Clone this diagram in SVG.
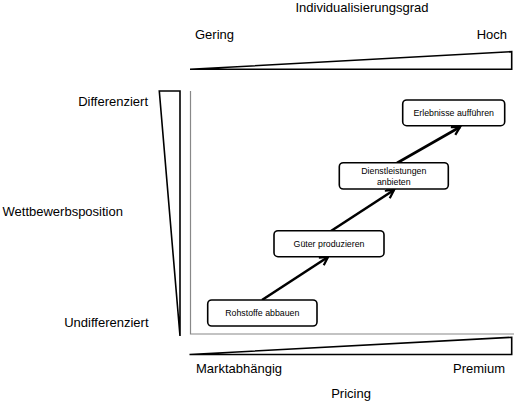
<svg xmlns="http://www.w3.org/2000/svg" width="516" height="402" viewBox="0 0 516 402">
<style>
.lbl{font-family:"Liberation Sans",Arial,sans-serif;font-size:13px;fill:#000}
.box{fill:#fff;stroke:#000;stroke-width:1.6}
.bt{font-family:"Liberation Sans",Arial,sans-serif;font-size:8.8px;fill:#000;text-anchor:middle}
.wedge{fill:#fff;stroke:#000;stroke-width:1.6;stroke-linejoin:miter}
.axis{fill:none;stroke:#888;stroke-width:1.2}
.conn{stroke:#000;stroke-width:2.6;fill:none}
</style>
<defs>
<marker id="ah" markerUnits="userSpaceOnUse" markerWidth="12" markerHeight="12" refX="9" refY="5" orient="auto">
<path d="M1,0.5 L9,5 L1,9.5" fill="none" stroke="#000" stroke-width="2.2"/>
</marker>
</defs>
<rect width="516" height="402" fill="#fff"/>
<g id="axes">
<polyline class="axis" points="190.5,91 190.5,334 514,334"/>
<polygon class="wedge" points="190,69.3 511.7,51.7 511.7,69.3"/>
<polygon class="wedge" points="189.5,354.5 511.7,337.3 511.7,354.5"/>
<polygon class="wedge" points="159.3,91 180,91 180,336"/>
</g>
<g id="labels">
<text class="lbl" x="362" y="12" text-anchor="middle">Individualisierungsgrad</text>
<text class="lbl" x="195" y="38.5">Gering</text>
<text class="lbl" x="507" y="38.5" text-anchor="end">Hoch</text>
<text class="lbl" x="148" y="106" text-anchor="end">Differenziert</text>
<text class="lbl" x="2.5" y="215.5">Wettbewerbsposition</text>
<text class="lbl" x="148.5" y="327" text-anchor="end">Undifferenziert</text>
<text class="lbl" x="196" y="373">Marktabhängig</text>
<text class="lbl" x="505" y="373" text-anchor="end">Premium</text>
<text class="lbl" x="351" y="398" text-anchor="middle">Pricing</text>
</g>
<g id="connectors">
<line class="conn" x1="262" y1="300" x2="328" y2="257" marker-end="url(#ah)"/>
<line class="conn" x1="331" y1="231" x2="394" y2="190" marker-end="url(#ah)"/>
<line class="conn" x1="397" y1="163" x2="460" y2="127" marker-end="url(#ah)"/>
</g>
<g id="n1">
<rect class="box" x="207.7" y="300" width="109.3" height="26" rx="4"/>
<text class="bt" x="262.3" y="316">Rohstoffe abbauen</text>
</g>
<g id="n2">
<rect class="box" x="274" y="230.7" width="110" height="26" rx="4"/>
<text class="bt" x="329" y="247">Güter produzieren</text>
</g>
<g id="n3">
<rect class="box" x="339.3" y="162.7" width="109" height="26.3" rx="4"/>
<text class="bt" x="393.8" y="174">Dienstleistungen</text>
<text class="bt" x="393.8" y="185">anbieten</text>
</g>
<g id="n4">
<rect class="box" x="402.7" y="100" width="102" height="25.7" rx="4"/>
<text class="bt" x="453.7" y="116">Erlebnisse aufführen</text>
</g>
</svg>
